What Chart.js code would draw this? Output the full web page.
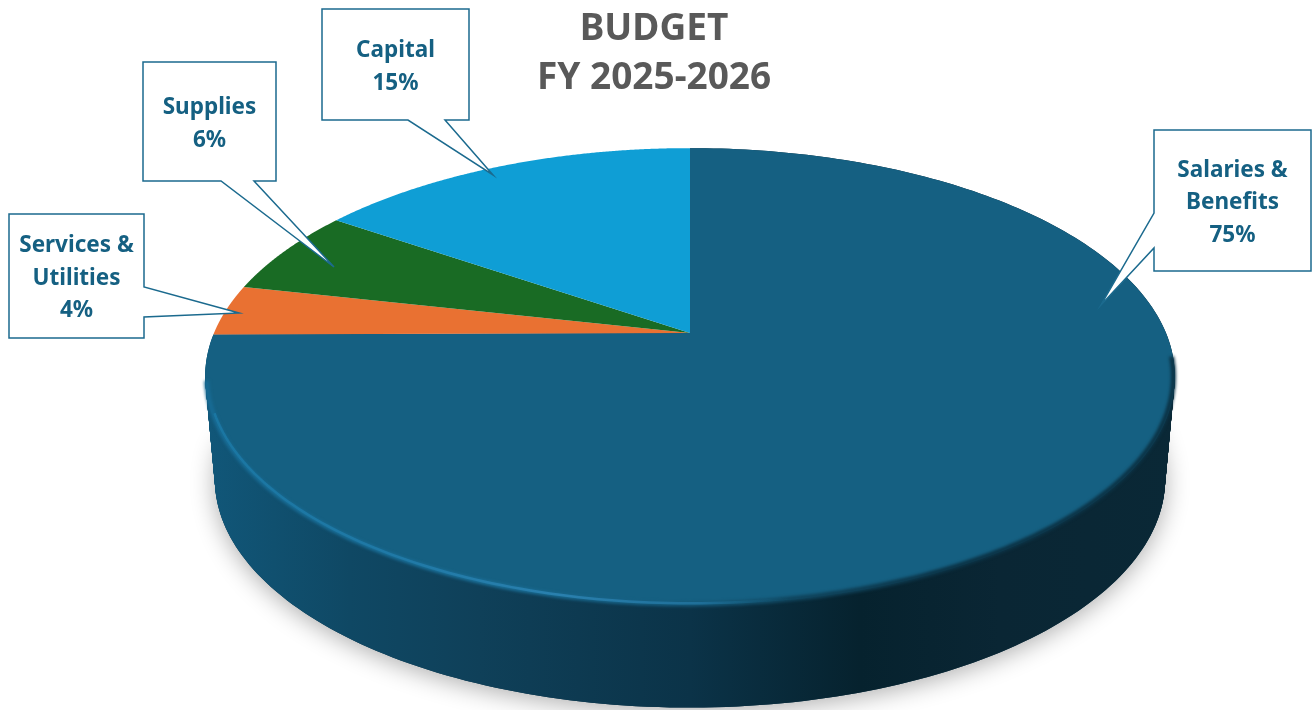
<!DOCTYPE html>
<html lang="en">
<head>
	<meta charset="utf-8">
	<title>Budget FY 2025-2026</title>
	<script src="https://cdn.jsdelivr.net/npm/chart.js@4/dist/chart.umd.min.js"></script>
	<style>
		html, body { margin: 0; padding: 0; background: #fff; overflow: hidden; }
		#wrap { width: 1313px; height: 710px; }
	</style>
</head>
<body>
	<div id="wrap"><canvas id="budgetChart" width="1313" height="710"></canvas></div>
	<script>
  var titleLines = ["BUDGET", "FY 2025-2026"];
  var categories = ["Salaries & Benefits", "Services & Utilities", "Supplies", "Capital"];
  var shares = [74.9, 3.6, 6.1, 15.4];
  var sliceColors = ["#156082", "#E97132", "#196B24", "#0F9ED5"];

  // perspective disc: apex position, radius, near/far squash
  var disc = { cx: 690, cy: 333, r: 476, k: 220, p: 0.19, drop: 103, shrink: 0.02 };

  // callout layout, same order as categories
  var callouts = [
  	{ x: 1154, y: 130, w: 157, h: 141, base: [[1154, 213], [1154, 248]], tip: [1101, 305] },
  	{ x: 9, y: 214, w: 135, h: 124, base: [[144, 287], [144, 317]], tip: [239, 313] },
  	{ x: 143, y: 62, w: 133, h: 119, base: [[221, 181], [254, 181]], tip: [334, 267] },
  	{ x: 322, y: 9, w: 147, h: 111, base: [[408, 120], [445, 120]], tip: [493, 175] }
  ];

  function project(theta, t, inset) {
  	var u = Math.cos(theta), v = Math.sin(theta);
  	var s = 1 - disc.shrink * t;
  	var d = 1 - disc.p * v;
  	var q = inset || 1;
  	var ym = disc.cy + 43;
  	var y = disc.cy + disc.drop * t + disc.k * v / d;
  	return [disc.cx + q * s * disc.r * u / d, ym + disc.drop * t + q * (y - disc.drop * t - ym)];
  }

  function sectorPath(ctx, arc, t) {
  	var steps = 240;
  	ctx.beginPath();
  	ctx.moveTo(disc.cx, disc.cy + disc.drop * t);
  	for (var i = 0; i <= steps; i++) {
  		var p = project(arc.startAngle + (arc.endAngle - arc.startAngle) * i / steps, t);
  		ctx.lineTo(p[0], p[1]);
  	}
  	ctx.closePath();
  }

  function xGradient(ctx, stops) {
  	var g = ctx.createLinearGradient(205, 0, 1175, 0);
  	stops.forEach(function (s) { g.addColorStop((s[0] - 205) / 970, s[1]); });
  	return g;
  }

  function rimPath(ctx, from, to, inset) {
  	ctx.beginPath();
  	for (var a = from; a >= to; a--) {
  		var p = project(a * Math.PI / 180, 0, inset);
  		if (a === from) ctx.moveTo(p[0], p[1]); else ctx.lineTo(p[0], p[1]);
  	}
  }

  var perspectivePie = {
  	id: "perspectivePie",
  	beforeDatasetDraw: function (chart) {
  		var ctx = chart.ctx;
  		var arcs = chart.getDatasetMeta(0).data;
  		ctx.save();

  		// soft shadow under the base
  		ctx.save();
  		ctx.shadowColor = "rgba(0,0,0,0.32)";
  		ctx.shadowBlur = 24;
  		ctx.shadowOffsetY = 4;
  		ctx.fillStyle = "#0b3348";
  		sectorPath(ctx, arcs[0], 1);
  		ctx.fill();
  		ctx.restore();

  		// side wall, stacked from bottom to top
  		ctx.fillStyle = xGradient(ctx, [[205, "#115779"], [350, "#0f4864"], [480, "#0f4059"], [690, "#0b3348"], [860, "#06222e"], [1000, "#0a2634"], [1175, "#0a2836"]]);
  		for (var i = disc.drop; i >= 0; i--) {
  			sectorPath(ctx, arcs[0], i / disc.drop);
  			ctx.fill();
  		}

  		// top face
  		arcs.forEach(function (arc, n) {
  			ctx.fillStyle = sliceColors[n];
  			sectorPath(ctx, arc, 0);
  			ctx.fill();
  		});

  		// bevel along the near edge: wide soft band, then a thin highlight on the lit side
  		ctx.save();
  		ctx.filter = "blur(1.5px)";
  		ctx.lineWidth = 5;
  		ctx.strokeStyle = xGradient(ctx, [[205, "#176a93"], [500, "#1a6f98"], [690, "#14597a"], [800, "#0f435b"], [950, "#0b3346"], [1175, "#0b3346"]]);
  		rimPath(ctx, 168, 6, 0.997);
  		ctx.stroke();
  		ctx.filter = "blur(0.7px)";
  		ctx.lineWidth = 2.5;
  		ctx.strokeStyle = xGradient(ctx, [[205, "#1a76a2"], [400, "#2079a6"], [560, "#2a80ae"], [700, "#1f6f98"], [790, "rgba(21,96,130,0)"], [1175, "rgba(21,96,130,0)"]]);
  		rimPath(ctx, 160, 40, 0.994);
  		ctx.stroke();
  		ctx.restore();

  		ctx.restore();
  		return false;
  	},
  	afterDatasetsDraw: function (chart) {
  		var ctx = chart.ctx;
  		ctx.save();
  		callouts.forEach(function (c, n) {
  			var right = c.x + c.w, bottom = c.y + c.h;
  			ctx.beginPath();
  			ctx.moveTo(c.x, c.y);
  			ctx.lineTo(right, c.y);
  			if (c.base[0][0] === right) {
  				ctx.lineTo(c.base[0][0], c.base[0][1]);
  				ctx.lineTo(c.tip[0], c.tip[1]);
  				ctx.lineTo(c.base[1][0], c.base[1][1]);
  			}
  			ctx.lineTo(right, bottom);
  			if (c.base[0][1] === bottom) {
  				ctx.lineTo(c.base[1][0], c.base[1][1]);
  				ctx.lineTo(c.tip[0], c.tip[1]);
  				ctx.lineTo(c.base[0][0], c.base[0][1]);
  			}
  			ctx.lineTo(c.x, bottom);
  			if (c.base[0][0] === c.x) {
  				ctx.lineTo(c.base[1][0], c.base[1][1]);
  				ctx.lineTo(c.tip[0], c.tip[1]);
  				ctx.lineTo(c.base[0][0], c.base[0][1]);
  			}
  			ctx.closePath();
  			ctx.fillStyle = "#fff";
  			ctx.fill();
  			ctx.lineWidth = 1.5;
  			ctx.strokeStyle = "#1b6a8e";
  			ctx.stroke();

  			var lines = categories[n].split(/(?<=&) /);
  			lines.push(Math.round(shares[n]) + "%");
  			ctx.fillStyle = "#156082";
  			ctx.font = "bold 22.5px 'Noto Sans'";
  			ctx.textAlign = "center";
  			ctx.textBaseline = "middle";
  			var midY = c.y + c.h / 2 + 2.5;
  			lines.forEach(function (line, j) {
  				ctx.fillText(line, c.x + c.w / 2, midY + (j - (lines.length - 1) / 2) * 32.5);
  			});
  		});
  		ctx.restore();
  	}
  };

  new Chart(document.getElementById("budgetChart"), {
  	type: "pie",
  	data: {
  		labels: categories,
  		datasets: [{ data: shares, backgroundColor: sliceColors, borderWidth: 0 }]
  	},
  	options: {
  		responsive: false,
  		animation: false,
  		layout: { padding: { right: 5 } },
  		plugins: {
  			legend: { display: false },
  			tooltip: { enabled: false },
  			title: {
  				display: true,
  				text: titleLines,
  				color: "#595959",
  				font: { family: "'Noto Sans'", size: 37, weight: "bold", lineHeight: 1.35 },
  				padding: { top: 4, bottom: 0 }
  			}
  		}
  	},
  	plugins: [perspectivePie]
  });
	</script>
</body>
</html>
